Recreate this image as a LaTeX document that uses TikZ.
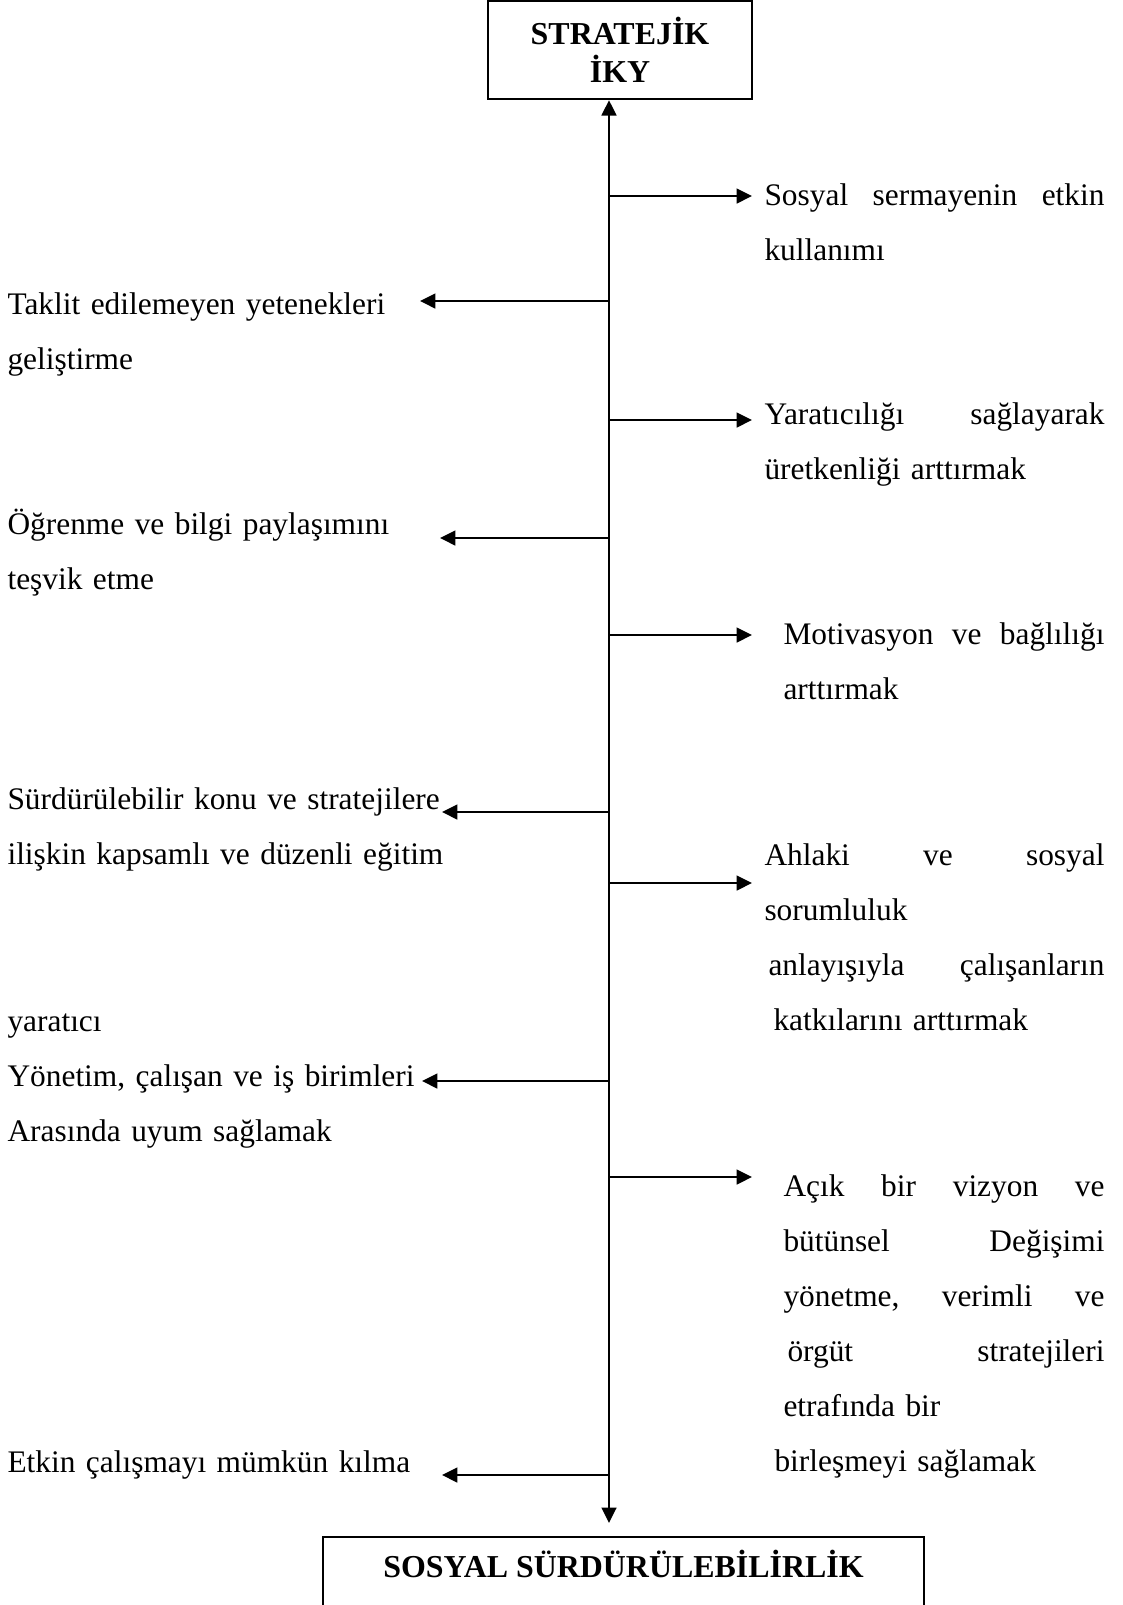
\documentclass[tikz,border=0pt]{standalone}
\usepackage{fontspec}
\setmainfont{Liberation Serif}
\usetikzlibrary{arrows.meta}
\newlength\px
\setlength\px{0.376pt}

\begin{document}
\begin{tikzpicture}[
  x=\px, y=-\px, >={Triangle[length=5.8pt,width=5.6pt]},
  box/.style={draw, line width=0.9pt, align=center, inner sep=0pt,
              font=\bfseries\fontsize{12pt}{14.3pt}\selectfont},
  txt/.style={anchor=base west, inner sep=0pt, align=left, text width=#1\px,
              font=\fontsize{11.8pt}{20.7pt}\selectfont},
  arr/.style={->, line width=0.75pt}
]
\useasboundingbox (0,0) rectangle (1123,1605);
\clip (0,0) rectangle (1123,1605);

% boxes
\node[box, minimum width=264\px, minimum height=98\px] (iky) at (620,50) {STRATEJİK\\İKY};
\node[box, minimum width=601\px, text height=15.2pt, text depth=22.6pt, anchor=north] (sosyal) at (623.5,1536) {SOSYAL SÜRDÜRÜLEBİLİRLİK};

% left side
\node[txt=560] (taklit) at (7,314) {Taklit edilemeyen yetenekleri\\ geliştirme};
\node[txt=560] (ogrenme) at (7,534) {Öğrenme ve bilgi paylaşımını\\ teşvik etme};
\node[txt=560] (egitim) at (7,809) {Sürdürülebilir konu ve stratejilere\\ ilişkin kapsamlı ve düzenli eğitim};
\node[txt=560] (yaraticisol) at (7,1031) {yaratıcı};
\node[txt=560] (uyum) at (7,1086) {Yönetim, çalışan ve iş birimleri\\ Arasında uyum sağlamak};
\node[txt=560] (etkin) at (7,1472) {Etkin çalışmayı mümkün kılma};

% right side
\node[txt=340] (sermaye) at (764,205) {Sosyal\hfill sermayenin\hfill etkin\\ kullanımı};
\node[txt=340] (uretken) at (764,424) {Yaratıcılığı\hfill sağlayarak\\ üretkenliği arttırmak};
\node[txt=321] (motiv) at (783,644) {Motivasyon\hfill ve\hfill bağlılığı\\ arttırmak};
\node[txt=340] (ahlak) at (764,865) {Ahlaki\hfill ve\hfill sosyal\\ sorumluluk\\
  \hspace*{4\px}anlayışıyla\hfill çalışanların\\ \hspace*{9\px}katkılarını arttırmak};
\node[txt=330] (vizyon) at (774,1196) {\hspace*{9\px}Açık\hfill bir\hfill vizyon\hfill ve\\
  \hspace*{9\px}bütünsel\hfill Değişimi\\ \hspace*{9\px}yönetme,\hfill verimli\hfill ve\\
  \hspace*{13\px}örgüt\hfill stratejileri\\ \hspace*{9\px}etrafında bir\\ birleşmeyi sağlamak};

% spine
\coordinate (spine) at (609,0);
\draw[arr, <->, shorten >=4.9pt] (spine |- iky.south) -- (spine |- sosyal.north);

% arrow tips
\coordinate (r1) at (752,196);
\coordinate (r2) at (752,420);
\coordinate (r3) at (752,635);
\coordinate (r4) at (752,883);
\coordinate (r5) at (752,1177);
\coordinate (l1) at (420,301);
\coordinate (l2) at (440,538);
\coordinate (l3) at (442,812);
\coordinate (l4) at (422,1081);
\coordinate (l5) at (442,1475);

\draw[arr] (spine |- r1) -- (r1);
\draw[arr] (spine |- r2) -- (r2);
\draw[arr] (spine |- r3) -- (r3);
\draw[arr] (spine |- r4) -- (r4);
\draw[arr] (spine |- r5) -- (r5);
\draw[arr] (spine |- l1) -- (l1);
\draw[arr] (spine |- l2) -- (l2);
\draw[arr] (spine |- l3) -- (l3);
\draw[arr] (spine |- l4) -- (l4);
\draw[arr] (spine |- l5) -- (l5);
\end{tikzpicture}
\end{document}
